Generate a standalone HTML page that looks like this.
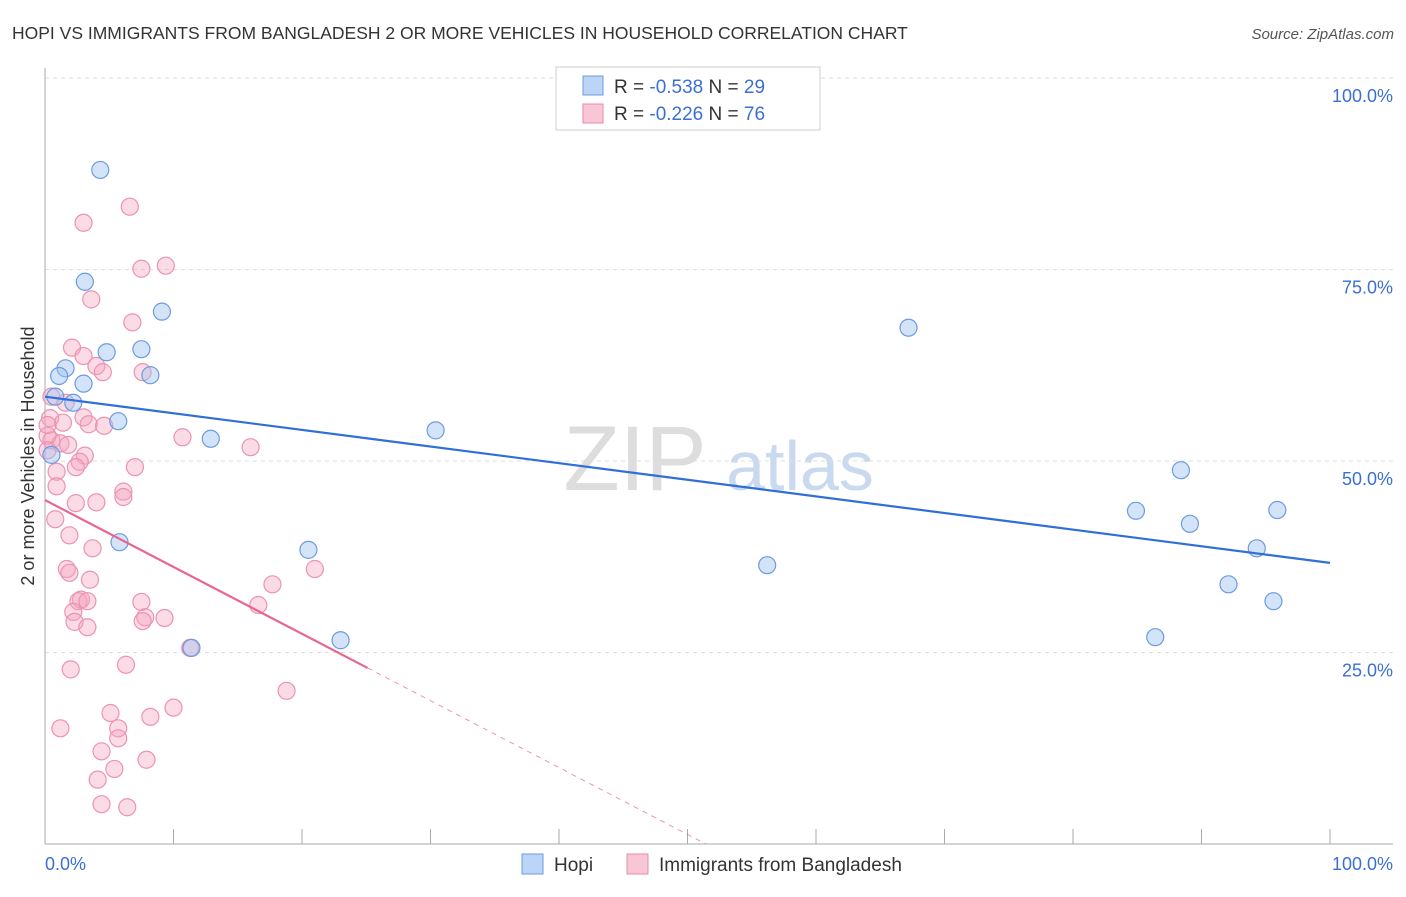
<!DOCTYPE html>
<html><head><meta charset="utf-8"><style>
body{margin:0;background:#fff;font-family:"Liberation Sans",sans-serif}
svg text{font-family:"Liberation Sans",sans-serif}
</style></head><body>
<svg id="c" width="1406" height="892">
<text x="12" y="39" font-size="17.5" fill="#333">HOPI VS IMMIGRANTS FROM BANGLADESH 2 OR MORE VEHICLES IN HOUSEHOLD CORRELATION CHART</text>
<text x="1394" y="39" font-size="15" fill="#555" font-style="italic" text-anchor="end">Source: ZipAtlas.com</text>
<g><text x="635" y="490" font-size="92" fill="#ddd" font-family="Liberation Serif" text-anchor="middle">ZIP</text><text x="800" y="490" font-size="70" fill="#c9d9ef" text-anchor="middle">atlas</text></g>
<g id="grid"></g><g id="marks"></g>
<text transform="translate(34,456) rotate(-90)" font-size="18" fill="#333" text-anchor="middle">2 or more Vehicles in Household</text>
<text x="45" y="870" font-size="18" fill="#3b6fd4">0.0%</text>
<text x="1393" y="870" font-size="18" fill="#3b6fd4" text-anchor="end">100.0%</text>
<g>
<rect x="556" y="67" width="264" height="63" fill="#fff" stroke="#ccc"/>
<rect x="583" y="76" width="20" height="19" fill="#bcd4f6" stroke="#6c9be0"/>
<text x="614" y="93" font-size="19" fill="#333">R = <tspan fill="#3b6fd4">-0.538</tspan>    N = <tspan fill="#3b6fd4">29</tspan></text>
<rect x="583" y="104" width="20" height="19" fill="#f9c6d6" stroke="#e98aa8"/>
<text x="614" y="120" font-size="19" fill="#333">R = <tspan fill="#3b6fd4">-0.226</tspan>    N = <tspan fill="#3b6fd4">76</tspan></text>
</g>
<g>
<rect x="522" y="854" width="21" height="20" fill="#bcd4f6" stroke="#6c9be0"/>
<text x="554" y="871" font-size="19" fill="#333">Hopi</text>
<rect x="627" y="854" width="21" height="20" fill="#f9c6d6" stroke="#e98aa8"/>
<text x="659" y="871" font-size="19" fill="#333">Immigrants from Bangladesh</text>
</g>
</svg>
<script>
const hopiX=[4.3,3.1,9.1,4.8,7.5,1.6,1.1,3.0,8.2,0.8,2.2,5.7,12.9,30.4,67.2,88.4,84.9,89.1,95.9,94.3,92.1,95.6,86.4,56.2,20.5,23.0,5.8,11.4,0.5];
const hopiY=[88.0,73.4,69.5,64.2,64.6,62.1,61.1,60.1,61.2,58.4,57.6,55.2,52.9,54.0,67.4,48.8,43.5,41.8,43.6,38.6,33.9,31.7,27.0,36.4,38.4,26.6,39.4,25.6,50.8];
const bangX=[6.6,3.0,7.5,9.4,3.6,6.8,2.1,3.0,4.0,4.5,7.6,0.5,1.6,0.4,3.0,1.4,3.4,4.6,10.7,0.5,1.2,1.8,16.0,3.1,2.7,2.4,7.0,0.9,6.1,0.9,6.1,4.0,2.4,0.8,1.9,3.7,1.7,1.9,3.5,2.8,2.6,3.3,2.2,2.3,3.3,7.5,7.8,7.6,9.3,17.7,21.0,16.6,2.0,6.3,18.8,10.0,5.1,1.2,5.7,5.7,8.2,4.4,7.9,5.4,4.1,4.4,6.4,0.2,0.2,0.2,11.3];
const bangY=[83.2,81.1,75.1,75.5,71.1,68.1,64.8,63.7,62.4,61.6,61.6,58.4,57.6,55.6,55.7,55.0,54.8,54.6,53.1,52.7,52.3,52.1,51.8,50.7,49.9,49.2,49.2,48.6,46.0,46.7,45.3,44.6,44.5,42.4,40.3,38.6,35.9,35.4,34.5,31.9,31.7,31.7,30.3,29.0,28.3,31.6,29.6,29.1,29.5,33.9,35.9,31.2,22.8,23.4,20.0,17.8,17.1,15.1,15.1,13.8,16.6,12.1,11.0,9.8,8.4,5.2,4.8,53.3,54.7,51.4,25.6];
const hopiTrend=[58.4,36.7];        // y at x=0, x=100
const bangTrend=[44.9,-0.873];      // intercept, slope per %
const bangSolidEnd=25.1;
const yTicks=[25,50,75,100];
const yTickLabels=["25.0%","50.0%","75.0%","100.0%"];
const xTicks=[0,10,20,30,40,50,60,70,80,90,100];

const NS="http://www.w3.org/2000/svg";
const X=v=>45+v*12.85, Y=v=>844-v*7.66;
function mk(t,a,p){const e=document.createElementNS(NS,t);for(const k in a)e.setAttribute(k,a[k]);p.appendChild(e);return e;}
const g=document.getElementById('grid'), m=document.getElementById('marks');
yTicks.forEach((t,i)=>{
 const l=mk('line',{x1:45,x2:1393,y1:Y(t),y2:Y(t),stroke:'#ddd','stroke-dasharray':'4,4'},g);
 
 
 const tx=mk('text',{x:1393,y:Y(t)+24,'font-size':18,fill:'#3b6fd4','text-anchor':'end'},g);
 tx.textContent=yTickLabels[i];
 
 
});
const ax=mk('line',{x1:45,x2:1393,y1:844,y2:844,stroke:'#aaa'},g);


const ay=mk('line',{x1:45,x2:45,y1:68,y2:844,stroke:'#aaa'},g);


xTicks.forEach(t=>{
 const l=mk('line',{x1:X(t),x2:X(t),y1:829,y2:844,stroke:'#aaa'},g);
 
 
});
bangX.forEach((v,i)=>{
 const c=mk('circle',{cx:X(v),cy:Y(bangY[i]),r:8.5,fill:'rgba(245,165,192,0.4)',stroke:'#ec93b0','stroke-width':1.2},m);
 
 
});
hopiX.forEach((v,i)=>{
 const c=mk('circle',{cx:X(v),cy:Y(hopiY[i]),r:8.5,fill:'rgba(160,196,240,0.45)',stroke:'#6c9be0','stroke-width':1.2},m);
 
 
});
const ht=mk('line',{x1:X(0),y1:Y(hopiTrend[0]),x2:X(100),y2:Y(hopiTrend[1]),stroke:'#2f6fd6','stroke-width':2.2},m);


const by=x=>bangTrend[0]+bangTrend[1]*x;
const bt=mk('line',{x1:X(0),y1:Y(by(0)),x2:X(bangSolidEnd),y2:Y(by(bangSolidEnd)),stroke:'#e8668f','stroke-width':2.2},m);


const xz=-bangTrend[0]/bangTrend[1];
const bd=mk('line',{x1:X(bangSolidEnd),y1:Y(by(bangSolidEnd)),x2:X(xz),y2:Y(0),stroke:'#e8668f','stroke-width':1,'stroke-dasharray':'5,5',opacity:0.7},m);


</script>
</body></html>
